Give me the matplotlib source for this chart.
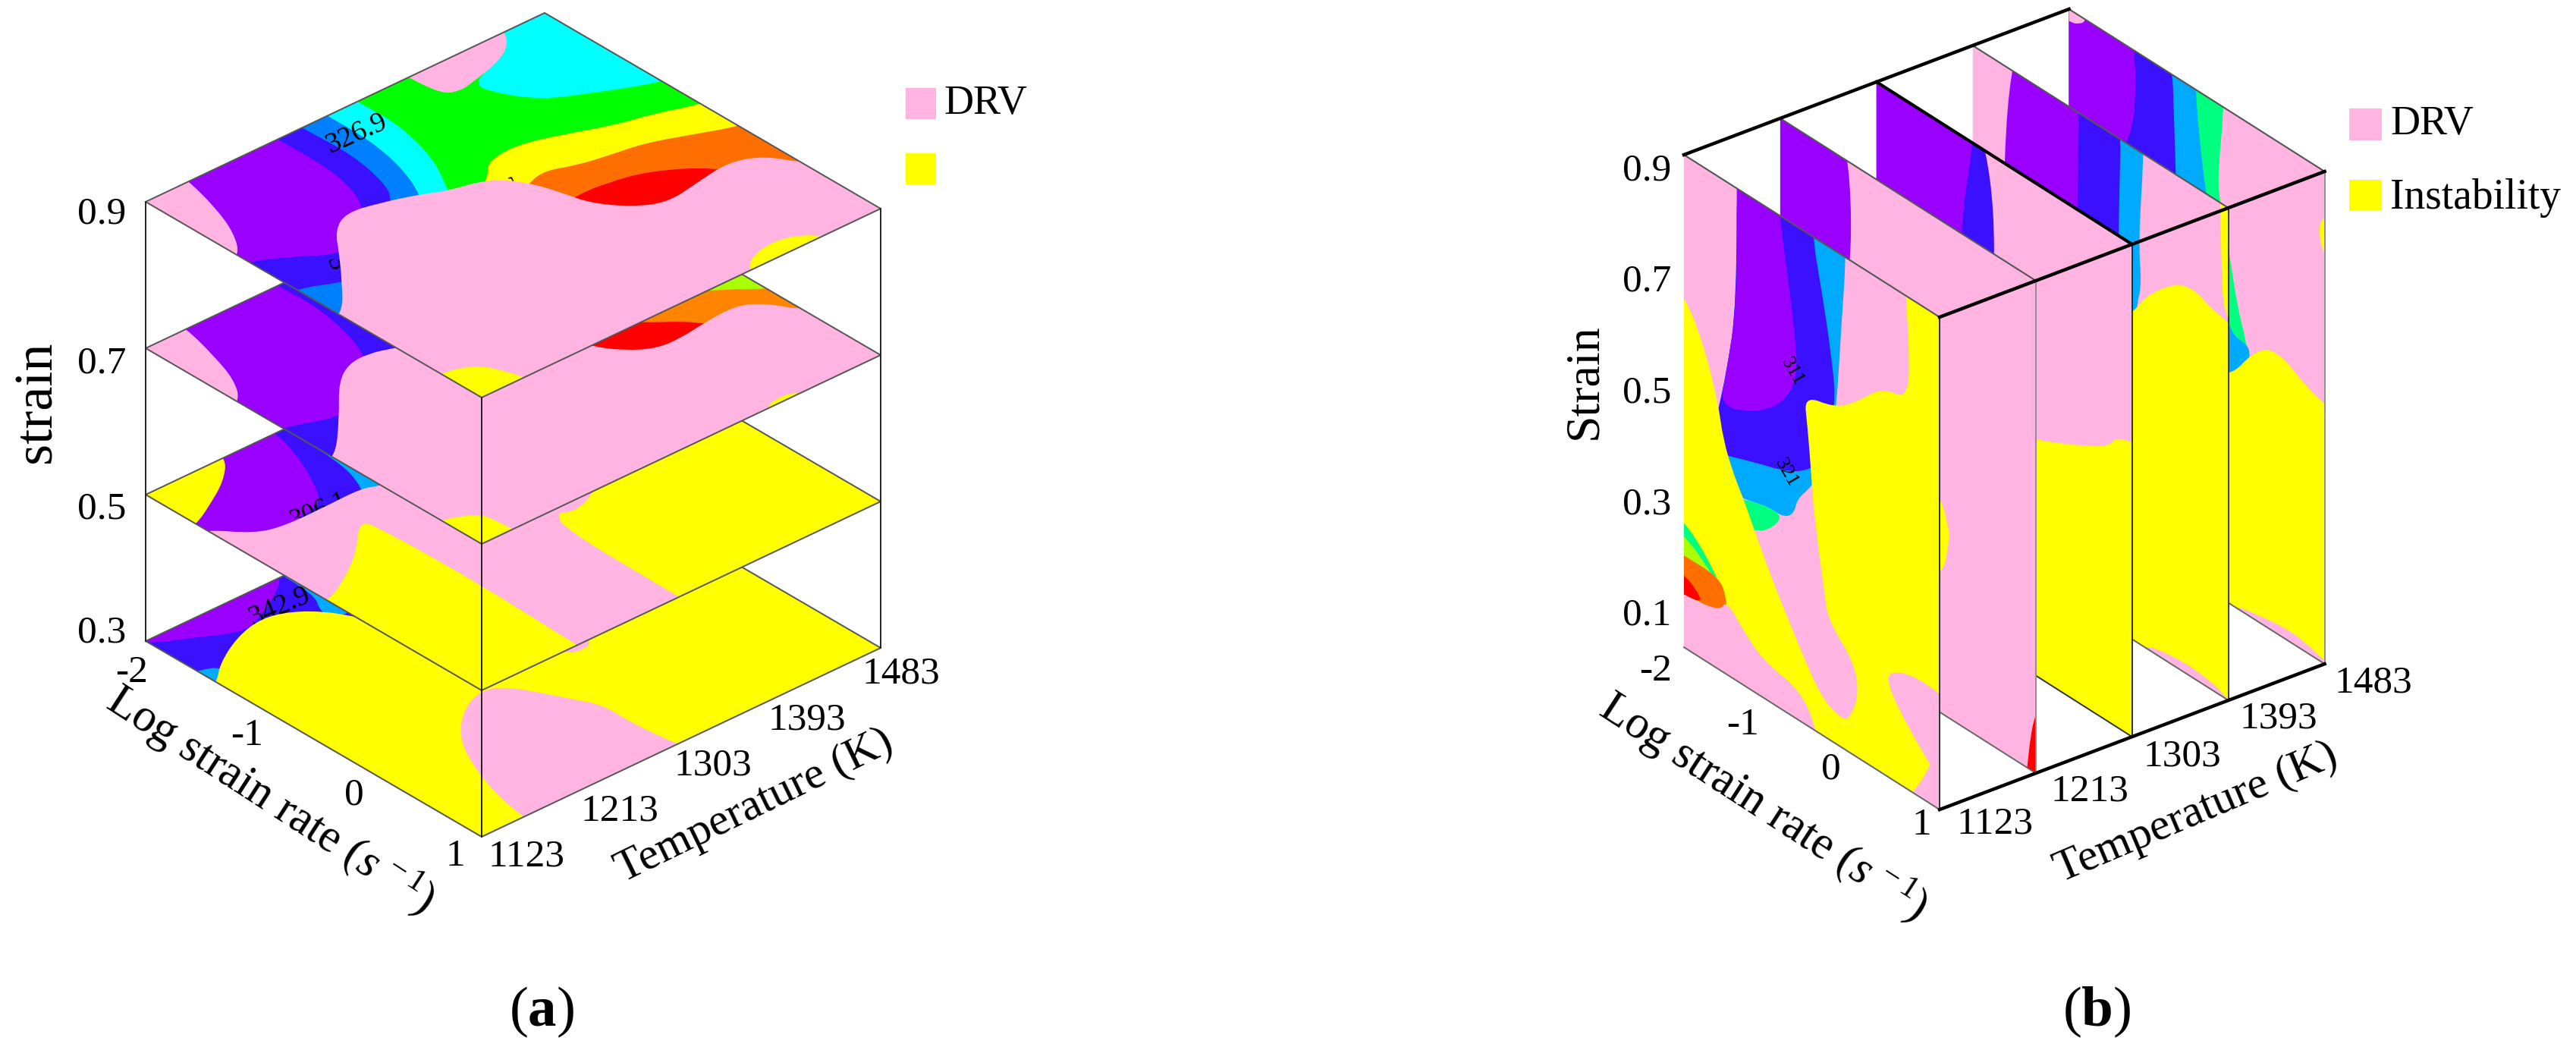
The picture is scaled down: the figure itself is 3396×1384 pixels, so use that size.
import matplotlib
matplotlib.use('Agg')
import matplotlib.pyplot as plt
from matplotlib.path import Path
from matplotlib.patches import PathPatch, Polygon, Rectangle
from matplotlib.transforms import Affine2D

plt.rcParams['font.family'] = ['Liberation Serif', 'DejaVu Serif']
plt.rcParams['mathtext.fontset'] = 'custom'
plt.rcParams['mathtext.rm'] = 'Liberation Serif'
plt.rcParams['mathtext.it'] = 'Liberation Serif:italic'
plt.rcParams['mathtext.bf'] = 'Liberation Serif:bold'

PINK = '#ffb4e1'
YELLOW = '#ffff00'
PURPLE = '#9a00ff'
DARK = '#3a10ff'
BLUE = '#0080ff'
SKY = '#00aaff'
CYAN = '#00ffff'
GREEN = '#00ff00'
MINT = '#00ff80'
LIME = '#aaff00'
ORANGE = '#ff6e00'
ORANGE2 = '#ff8400'
RED = '#ff0000'

rate_ticks = ['-2', '-1', '0', '1']
temp_ticks = ['1123', '1213', '1303', '1393', '1483']
strain_ticks_a = ['0.9', '0.7', '0.5', '0.3']
strain_ticks_b = ['0.9', '0.7', '0.5', '0.3', '0.1']

# panel (a): regions on each strain plane, (log strain rate, temperature)
a09_purple = [(-2.2, 1165), (-1.996, 1162), (-1.65, 1152), (-1.38, 1140), (-1.17, 1124), (-1.1, 1100), (1.5, 1100), (1.5, 1520), (-2.2, 1520)]
a09_dark = [(-2.2, 1242), (-1.97, 1242), (-1.59, 1243), (-1.28, 1237), (-1.08, 1226), (-.82, 1203), (-.78, 1174), (-.93, 1152), (-1.08, 1125), (-1.1, 1100), (1.5, 1100), (1.5, 1520), (-2.2, 1520)]
a09_blue = [(-2.2, 1264), (-1.97, 1264), (-1.57, 1266), (-1.21, 1258), (-1.03, 1248), (-.45, 1184), (-.53, 1152), (-.66, 1125), (-.65, 1100), (1.5, 1100), (1.5, 1520), (-2.2, 1520)]
a09_cyan = [(-2.2, 1287), (-1.98, 1287), (-1.6, 1287), (-1.25, 1279), (-.965, 1266), (-.6, 1240), (-.3, 1100), (1.5, 1100), (1.5, 1520), (-2.2, 1520)]
a09_green = [(-2.2, 1314), (-1.985, 1314), (-1.635, 1315), (-1.21, 1303), (-.9, 1284), (-.5, 1260), (-.3, 1100), (1.5, 1100), (1.5, 1520), (-2.2, 1520)]
a09_cyan_top = [(-2.2, 1448), (-1.98, 1448), (-1.79, 1426), (-1.695, 1385), (-1.487, 1392), (-1.28, 1408), (-1.16, 1432), (-.936, 1483), (-.9, 1520), (-2.2, 1520)]
a09_pink_top = [(-2.2, 1360), (-1.98, 1360), (-1.72, 1363), (-1.68, 1375), (-1.695, 1385), (-1.79, 1426), (-1.98, 1448), (-2.2, 1448)]
a09_yellow = [(-.7, 1290), (-.85, 1316), (-.966, 1327), (-1.0, 1355), (-.9, 1388), (-.767, 1423), (-.718, 1449), (-.6, 1483), (-.55, 1520), (1.5, 1520), (1.5, 1290)]
a09_orange = [(-.5, 1310), (-.63, 1330), (-.664, 1349), (-.585, 1368), (-.536, 1394), (-.5, 1421), (-.383, 1452), (-.265, 1482), (-.2, 1520), (1.5, 1520), (1.5, 1310)]
a09_red = [(-.3, 1325), (-.327, 1342), (-.318, 1366), (-.244, 1401), (-.001, 1438), (.2, 1440), (.3, 1350), (-.1, 1320)]
a09_pink = [(-.2, 1100), (-.27, 1126), (-.545, 1153), (-.787, 1175), (-1.0, 1193), (-1.105, 1213), (-1.055, 1238), (-.965, 1266), (-.885, 1282), (-.822, 1313), (-.63, 1330), (-.41, 1338), (-.215, 1343), (-.018, 1360), (.097, 1382), (.046, 1414), (-.004, 1447), (.093, 1471), (.322, 1484), (.5, 1520), (1.5, 1520), (1.5, 1100)]
a09_yellow_low = [(.63, 1100), (.638, 1125), (.663, 1138), (.744, 1151), (.868, 1157), (.979, 1161), (1.2, 1165), (1.2, 1100)]
a09_yellow_right = [(1.2, 1360), (.997, 1364), (.895, 1377), (.848, 1397), (.877, 1416), (.994, 1432), (1.2, 1436)]

a07_purple = [(-2.2, 1160), (-2, 1160), (-1.65, 1150), (-1.38, 1140), (-1.175, 1125), (-1.1, 1100), (1.5, 1100), (1.5, 1520), (-2.2, 1520)]
a07_dark = [(-2.2, 1242), (-2, 1242), (-1.6, 1244), (-1.03, 1227), (-.7, 1190), (-.638, 1160), (-.78, 1125), (-.8, 1100), (1.5, 1100), (1.5, 1520), (-2.2, 1520)]
a07_lime = [(-2.2, 1300), (1.5, 1300), (1.5, 1520), (-2.2, 1520)]
a07_orange = [(-.8, 1350), (-.21, 1459), (0, 1483), (.1, 1520), (1.5, 1520), (1.5, 1300), (-.8, 1300)]
a07_red = [(-.6, 1350), (-.235, 1391), (-.02, 1421), (.2, 1430), (.3, 1340), (-.3, 1320)]
a07_pink = [(-.3, 1100), (-.307, 1123), (-.638, 1160), (-.94, 1190), (-1.057, 1211), (-1.062, 1230), (-1.01, 1246), (-.885, 1282), (-.6, 1330), (-.224, 1347), (-.068, 1359), (.048, 1377), (.056, 1398), (.022, 1423), (0, 1453), (.099, 1470), (.328, 1484), (.5, 1520), (1.5, 1520), (1.5, 1100)]
a07_yellow_low = [(.63, 1100), (.64, 1123), (.68, 1136), (.75, 1148), (.85, 1150), (1.0, 1151), (1.2, 1151), (1.2, 1100)]
a07_yellow_right = [(1.2, 1375), (.98, 1381), (.95, 1395), (.97, 1411), (1.2, 1415)]

a05_purple = [(-2.2, 1100), (-1.0, 1100), (-1.0, 1300), (-2.2, 1300)]
a05_dark = [(-2.2, 1240), (-1.97, 1240), (-1.7, 1231), (-1.41, 1216), (-1.21, 1202), (-1.18, 1170), (-1, 1170), (-1, 1400), (-2.2, 1400)]
a05_blue = [(-2.2, 1248), (-1.51, 1248), (-1.19, 1237), (-1, 1220), (-1, 1400), (-2.2, 1400)]
a05_yellow_left = [(-2.2, 1195), (-1.99, 1195), (-1.8, 1173), (-1.656, 1146), (-1.55, 1124), (-1.5, 1100), (-2.2, 1100)]
a05_pink = [(-1.5, 1100), (-1.476, 1122), (-1.238, 1144), (-1.18, 1165), (-1.18, 1202), (-1.19, 1237), (-1.13, 1247), (-1.1, 1300), (-1.1, 1520), (1.5, 1520), (1.5, 1100)]
a05_yellow_low = [(-.925, 1207), (-.785, 1211), (.039, 1213), (.992, 1209), (1.2, 1209), (1.2, 1100), (-.35, 1100), (-.381, 1127), (-.505, 1152), (-.665, 1178)]
a05_yellow_high = [(1.5, 1301), (.982, 1301), (-.026, 1302), (-.21, 1312), (-.134, 1322), (-.226, 1350), (-.5, 1380), (-.5, 1520), (1.5, 1520)]

a03_dark = [(-2.2, 1100), (-1, 1100), (-1, 1400), (-2.2, 1400)]
a03_purple = [(-2.2, 1246), (-2, 1246), (-1.86, 1225), (-1.75, 1201), (-1.68, 1180), (-1.83, 1151), (-1.96, 1123), (-2.2, 1100)]
a03_sky_high = [(-2.2, 1247), (-1.716, 1247), (-1.553, 1235), (-1.4, 1235), (-1.4, 1400), (-2.2, 1400)]
a03_sky_low = [(-1.6, 1100), (-1.53, 1128), (-1.48, 1138), (-1.3, 1138), (-1.3, 1100)]
a03_yellow = [(-1.3, 1100), (-1.362, 1123), (-1.507, 1140), (-1.668, 1172), (-1.73, 1200), (-1.667, 1221), (-1.53, 1238), (-1.38, 1247), (-1.2, 1260), (-1, 1520), (1.5, 1520), (1.5, 1100)]
a03_pink = [(1.2, 1303), (1.0, 1300), (.679, 1295), (.371, 1296), (.219, 1287), (.027, 1276), (-.161, 1264), (-.244, 1249), (-.156, 1224), (.055, 1198), (.331, 1181), (.684, 1167), (.979, 1161), (1.2, 1158)]
a03_pink_small = [(-.5, 1345), (-.2, 1347), (-.17, 1326), (-.3, 1318), (-.5, 1330)]

# panel (b): regions on each temperature plane, (log strain rate, strain)
b1123_sky = [(-.1, 1.0), (-.1, .896), (-.15, .792), (-.21, .646), (-.3, .55), (-.51, .491), (-.67, .458), (-.71, .43), (-.83, .414), (-1.02, .415), (-1.3, .402), (-1.6, .4), (-1.6, .52), (-1.5, .591), (-1.38, .711), (-1.38, 1.0)]
b1123_dark = [(-.49, 1.0), (-.49, .897), (-.39, .826), (-.27, .727), (-.21, .646), (-.4, .55), (-.51, .519), (-.79, .491), (-1.18, .473), (-1.54, .453), (-1.7, .45), (-1.6, .52), (-1.5, .591), (-1.38, .711), (-1.38, 1.0)]
b1123_purple = [(-1.38, 1.0), (-1.38, .9), (-1.38, .711), (-1.5, .591), (-1.58, .526), (-1.1, .561), (-.83, .601), (-.67, .653), (-.69, .717), (-.79, .819), (-.88, .899), (-.88, 1.0)]
b1123_mint = [(-1.5, .39), (-1.3, .402), (-1.02, .415), (-.83, .414), (-1.02, .375), (-1.18, .363), (-1.5, .33)]
b1123_yellow = [(-2.2, .673), (-2, .673), (-1.78, .616), (-1.6, .533), (-1.54, .478), (-1.42, .433), (-1.3, .402), (-1.18, .365), (-.98, .305), (-.71, .236), (-.39, .159), (-.15, .147), (-.07, .152), (.05, .198), (.01, .249), (-.31, .293), (-.35, .333), (-.47, .444), (-.51, .519), (-.55, .586), (-.59, .633), (-.23, .645), (.01, .674), (.33, .727), (.64, .733), (.64, .835), (.6, .894), (.6, 1.0), (1.2, 1.0), (1.2, 0), (-2.2, 0)]
b1123_pink_right = [(.4, .273), (.72, .293), (1.2, .284), (1.2, .12), (1.0, .147), (.64, .2), (.4, .246)]
b1123_strip_mint = [(-2.2, .305), (-2, .305), (-1.74, .273), (-1.5, .222), (-1.5, .15), (-2.2, .15)]
b1123_strip_lime = [(-2.2, .282), (-2, .282), (-1.78, .262), (-1.5, .222), (-1.5, .15), (-2.2, .15)]
b1123_strip_orange = [(-2.2, .249), (-2, .249), (-1.58, .25), (-1.5, .222), (-1.5, .19), (-1.58, .19), (-2.2, .19)]
b1123_pink_low = [(-2.2, .185), (-2, .185), (-1.58, .195), (-1.5, .221), (-1.26, .181), (-1.02, .158), (-.63, .15), (-.43, .1), (-.43, .05), (-2.2, .05)]
b1123_strip_red = [(-2.2, .218), (-2, .218), (-1.86, .207), (-1.78, .191), (-2, .185), (-2.2, .185)]

b1213_purple = [(-2.2, 1.0), (-1.17, 1.0), (-1.17, .6), (-2.2, .6)]
b1213_yellow = [(-.6, .46), (-.135, .459), (-.016, .404), (-.016, .392), (-.095, .318), (-.6, .3)]
b1213_red = [(1.0, .21), (.9, .115), (.88, .05), (1.2, .05), (1.2, .21)]

b1303_dark = [(-2.2, 1.0), (-.62, 1.0), (-.62, .5), (-2.2, .5)]
b1303_purple = [(-2.2, 1.0), (-.864, 1.0), (-.864, .894), (-1.02, .754), (-1.02, .5), (-2.2, .5)]
b1303_yellow = [(-.6, .46), (-.104, .484), (.456, .524), (.736, .549), (.816, .572), (1.2, .585), (1.2, 0), (-.6, 0)]

b1393_sky = [(-1.63, 1.0), (.01, 1.0), (.008, .9), (-.056, .75), (-.016, .682), (-.096, .637), (-.1, .3), (-1.64, .3)]
b1393_dark = [(-1.63, 1.0), (-.24, 1.0), (-.296, .746), (-.3, .3), (-1.64, .3)]
b1393_purple = [(-1.63, 1.0), (-.736, 1.0), (-.776, .754), (-.8, .3), (-1.64, .3)]
b1393_yellow = [(-.3, .6), (-.096, .637), (.024, .67), (.344, .719), (.584, .734), (.824, .717), (1.2, .71), (1.2, 0), (-.3, 0)]
b1393_yellow_top = [(.9, 1.0), (.904, .889), (.92, .8), (.944, .72), (1.2, .7), (1.2, 1.0)]
b1393_pink_low = [(-.1, 0), (-.1, .1), (.384, .117), (.824, .113), (1.0, .1), (1.2, .1), (1.2, 0)]

b1483_mint = [(-2.2, 1.0), (-.18, 1.0), (-.18, .9), (-.254, .784), (-.23, .742), (-.11, .664), (-.03, .594), (.087, .539), (.127, .5), (-.1, .45), (-2.2, .45)]
b1483_sky = [(-2.2, 1.0), (-.524, 1.0), (-.524, .9), (-.405, .745), (-.2, .6), (-.11, .54), (.087, .539), (.127, .528), (.1, .45), (-2.2, .45)]
b1483_dark = [(-2.2, 1.0), (-.81, 1.0), (-.746, .75), (-.7, .5), (-2.2, .5)]
b1483_purple = [(-2.2, 1.0), (-1.22, 1.0), (-1.22, .7), (-2.2, .7)]
b1483_pink_top = [(-2.2, .88), (-2, .88), (-1.9, .884), (-1.78, .9), (-1.78, 1.0), (-2.2, 1.0)]
b1483_yellow = [(-.4, .45), (-.087, .474), (.127, .525), (.325, .554), (.524, .555), (.8, .53), (1.2, .515), (1.2, 0), (-.4, 0)]
b1483_yellow_right = [(1.2, .83), (1.0, .83), (.92, .8), (1.0, .758), (1.2, .758)]
b1483_pink_low = [(-.1, 0), (-.1, .1), (.167, .11), (.643, .12), (1.0, .105), (1.2, .1), (1.2, 0)]

planes_a = [
    (0.3, YELLOW, [(a03_dark, DARK), (a03_purple, PURPLE), (a03_sky_high, SKY), (a03_sky_low, SKY), (a03_yellow, YELLOW), (a03_pink, PINK), (a03_pink_small, PINK)]),
    (0.5, PINK, [(a05_purple, PURPLE), (a05_dark, DARK), (a05_blue, SKY), (a05_yellow_left, YELLOW), (a05_pink, PINK), (a05_yellow_low, YELLOW), (a05_yellow_high, YELLOW)]),
    (0.7, PINK, [(a07_purple, PURPLE), (a07_dark, DARK), (a07_lime, LIME), (a07_orange, ORANGE2), (a07_red, RED), (a07_pink, PINK), (a07_yellow_low, YELLOW), (a07_yellow_right, YELLOW)]),
    (0.9, PINK, [(a09_purple, PURPLE), (a09_dark, DARK), (a09_blue, BLUE), (a09_cyan, CYAN), (a09_green, GREEN), (a09_cyan_top, CYAN), (a09_pink_top, PINK),
                 (a09_yellow, YELLOW), (a09_orange, ORANGE), (a09_red, RED), (a09_pink, PINK), (a09_yellow_low, YELLOW), (a09_yellow_right, YELLOW)]),
]

planes_b = [
    (1483, [(b1483_mint, MINT), (b1483_sky, SKY), (b1483_dark, DARK), (b1483_purple, PURPLE), (b1483_pink_top, PINK), (b1483_yellow, YELLOW), (b1483_yellow_right, YELLOW), (b1483_pink_low, PINK)]),
    (1393, [(b1393_sky, SKY), (b1393_dark, DARK), (b1393_purple, PURPLE), (b1393_yellow, YELLOW), (b1393_yellow_top, YELLOW), (b1393_pink_low, PINK)]),
    (1303, [(b1303_dark, DARK), (b1303_purple, PURPLE), (b1303_yellow, YELLOW)]),
    (1213, [(b1213_purple, PURPLE), (b1213_yellow, YELLOW), (b1213_red, RED)]),
    (1123, [(b1123_sky, SKY), (b1123_dark, DARK), (b1123_purple, PURPLE), (b1123_mint, MINT), (b1123_yellow, YELLOW), (b1123_pink_right, PINK),
            (b1123_strip_mint, MINT), (b1123_strip_lime, LIME), (b1123_strip_orange, ORANGE), (b1123_pink_low, PINK), (b1123_strip_red, RED)]),
]


def smooth_path(pts):
    # closed quadratic spline, the points are the control points
    n = len(pts)
    mid = lambda p, q: ((p[0] + q[0]) / 2, (p[1] + q[1]) / 2)
    verts = [mid(pts[-1], pts[0])]
    codes = [Path.MOVETO]
    for i in range(n):
        verts += [pts[i], mid(pts[i], pts[(i + 1) % n])]
        codes += [Path.CURVE3, Path.CURVE3]
    return Path(verts, codes)


def plane_a(strain):
    # (rate, temperature) -> picture, for one strain level
    a, b = 443 / 3, 526 / 360
    d, e = 258 / 3, -249 / 360
    c = 192 + 2 * a - 1123 * b
    f = 266 + 2 * d - 1123 * e + (0.9 - strain) * 965
    return Affine2D.from_values(a, d, b, e, c, f)


def plane_b(temp):
    # (rate, strain) -> picture, for one temperature
    a, d = 337 / 3, 214 / 3
    dx = (temp - 1123) / 360 * 507.6
    dy = -(temp - 1123) / 360 * 192
    return Affine2D.from_values(a, d, 0, -811.4, 2220 + 2 * a + dx, 204 + 2 * d + dy + 0.9 * 811.4)


def draw_plane(ax, tr, corners, base, layers, z):
    # each plane gets its own block of zorders, layer j sits at z + j + 1
    plane = Polygon(corners, closed=True, facecolor=base, edgecolor='none', transform=tr, zorder=z)
    ax.add_patch(plane)
    for j, (pts, colour) in enumerate(layers):
        patch = PathPatch(smooth_path(pts), facecolor=colour, edgecolor='none', transform=tr, zorder=z + j + 1)
        ax.add_patch(patch)
        patch.set_clip_path(plane)


fig = plt.figure(figsize=(33.96, 13.84), dpi=100)
ax = fig.add_axes([0, 0, 1, 1])
ax.set_xlim(0, 3396)
ax.set_ylim(1384, 0)
ax.axis('off')

# ---- panel a
for i, (strain, base, layers) in enumerate(planes_a):
    z = 100 * (i + 1)
    tr = plane_a(strain) + ax.transData
    corners = [(-2, 1123), (1, 1123), (1, 1483), (-2, 1483)]
    draw_plane(ax, tr, corners, base, layers, z)
    ax.add_patch(Polygon(corners, closed=True, fill=False, edgecolor='#555555', linewidth=1.4, transform=tr, zorder=z + 50))

for r, t in [(-2, 1123), (1, 1123), (1, 1483)]:
    p_top = plane_a(0.9).transform((r, t))
    p_low = plane_a(0.3).transform((r, t))
    ax.plot([p_top[0], p_low[0]], [p_top[1], p_low[1]], color='#222222', lw=1.4, zorder=500)

for label, y in zip(strain_ticks_a, [282, 479, 671, 834]):
    ax.text(134, y, label, fontsize=37, ha='center', va='center')
ax.text(49, 530, 'strain', fontsize=52, rotation=90, ha='center', va='center')
for label, x, y in zip(rate_ticks, [174, 326, 467, 600], [887, 970, 1048, 1129]):
    ax.text(x, y, label, fontsize=37, ha='center', va='center')
for label, x, y in zip(temp_ticks, [694, 817, 940, 1064, 1188], [1129, 1069, 1009, 949, 888]):
    ax.text(x, y, label, fontsize=37, ha='center', va='center')
ax.text(357, 1054, r'Log strain rate ($s^{\,-1}$)', fontsize=44, rotation=-33, ha='center', va='center', rotation_mode='anchor')
ax.text(995, 1063, 'Temperature (K)', fontsize=43, rotation=26, ha='center', va='center', rotation_mode='anchor')
ax.text(714, 1334, r'($\mathbf{a}$)', fontsize=54, ha='center', va='center')

# contour labels sit under the regions that cut them off
ax.text(470, 176, '326.9', fontsize=27, rotation=24, ha='center', va='center', zorder=405.5)
ax.text(420, 673, '306.1', fontsize=25, rotation=22, ha='center', va='center', zorder=204.5)
ax.text(368, 800, '342.9', fontsize=27, rotation=23, ha='center', va='center', zorder=104.5)
ax.text(441, 347, '3', fontsize=25, rotation=-70, ha='center', va='center', zorder=410.5)
ax.text(660, 244, '3', fontsize=25, rotation=-70, ha='center', va='center', zorder=410.5)

ax.add_patch(Rectangle((1194, 116), 40, 41, facecolor=PINK, edgecolor='none'))
ax.add_patch(Rectangle((1194, 202), 40, 41, facecolor=YELLOW, edgecolor='none'))
ax.text(1244, 137, 'DRV', fontsize=39, ha='left', va='center')

# ---- panel b
for i, (temp, layers) in enumerate(planes_b):
    z = 1000 + 100 * i
    tr = plane_b(temp) + ax.transData
    corners = [(-2, 0.1), (1, 0.1), (1, 0.9), (-2, 0.9)]
    draw_plane(ax, tr, corners, PINK, layers, z)
    # plane edges
    xs, ys = zip(*plane_b(temp).transform(corners))
    col_low = '#333333' if temp == 1303 else '#666666'
    ax.plot([xs[0], xs[1]], [ys[0], ys[1]], color=col_low, lw=1.4, zorder=z + 50)
    lw_top, col_top = (3.0, 'black') if temp == 1303 else (1.5, '#555555')
    ax.plot([xs[3], xs[2]], [ys[3], ys[2]], color=col_top, lw=lw_top, zorder=z + 50)
    col_side = '#888888' if temp in (1213, 1483) else '#222222'
    ax.plot([xs[1], xs[2]], [ys[1], ys[2]], color=col_side, lw=1.3, zorder=z + 50)

for r, s in [(-2, 0.9), (1, 0.9), (1, 0.1)]:
    p0 = plane_b(1123).transform((r, s))
    p1 = plane_b(1483).transform((r, s))
    ax.plot([p0[0], p1[0]], [p0[1], p1[1]], color='black', lw=3.2, zorder=2000)

for label, y in zip(strain_ticks_b, [225, 371, 518, 665, 811]):
    ax.text(2171, y, label, fontsize=37, ha='center', va='center')
ax.text(2089, 503, 'Strain', fontsize=46, rotation=90, ha='center', va='center')
for label, x, y in zip(rate_ticks, [2183, 2298, 2414, 2533], [885, 956, 1014, 1088]):
    ax.text(x, y, label, fontsize=37, ha='center', va='center')
for label, x, y in zip(temp_ticks, [2630, 2755, 2877, 3004, 3129], [1086, 1043, 997, 947, 900]):
    ax.text(x, y, label, fontsize=37, ha='center', va='center')
ax.text(2325, 1063, r'Log strain rate ($s^{\,-1}$)', fontsize=44, rotation=-33, ha='center', va='center', rotation_mode='anchor')
ax.text(2895, 1072, 'Temperature (K)', fontsize=43, rotation=23, ha='center', va='center', rotation_mode='anchor')
ax.text(2764, 1334, r'($\mathbf{b}$)', fontsize=54, ha='center', va='center')
ax.text(2363, 490, '311', fontsize=19, rotation=-60, ha='center', va='center', zorder=1404.5)
ax.text(2355, 623, '321', fontsize=19, rotation=-60, ha='center', va='center', zorder=1404.5)

ax.add_patch(Rectangle((3097, 143), 43, 42, facecolor=PINK, edgecolor='none'))
ax.add_patch(Rectangle((3097, 237), 43, 41, facecolor=YELLOW, edgecolor='none'))
ax.text(3151, 164, 'DRV', fontsize=39, ha='left', va='center')
ax.text(3151, 261, 'Instability', fontsize=40, ha='left', va='center')

fig.savefig('out.png', dpi=100, facecolor='white')
